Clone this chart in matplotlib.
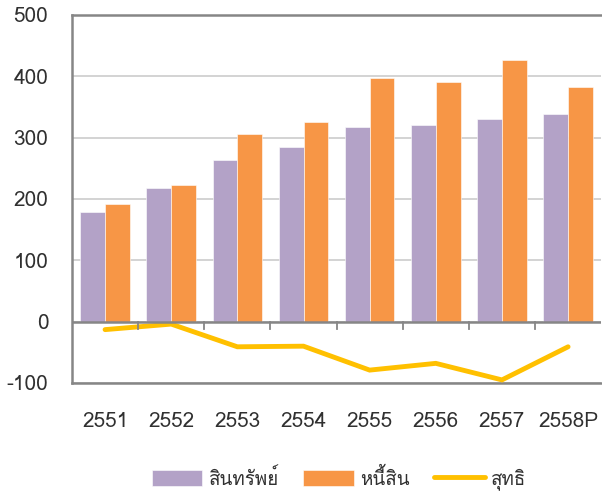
import numpy as np
import matplotlib
matplotlib.use("Agg")
import matplotlib.pyplot as plt
from matplotlib import font_manager
from matplotlib.ft2font import FT2Font

years = ["2551", "2552", "2553", "2554", "2555", "2556", "2557", "2558P"]
assets = [179, 218, 263, 284, 318, 321, 331, 339]
liabilities = [192, 222, 306, 325, 398, 391, 427, 382]
net = [-13, -4, -41, -40, -79, -68, -95, -41]
labels = ["สินทรัพย์", "หนี้สิน", "สุทธิ"]

# find a font that can draw Thai
thai_font = None
for f in font_manager.fontManager.ttflist:
    try:
        if 0x0E2A in FT2Font(f.fname).get_charmap():
            thai_font = f.name
            break
    except Exception:
        pass
fams = ["DejaVu Sans"]
if thai_font:
    fams = [thai_font, "DejaVu Sans"]
plt.rcParams["font.family"] = fams
plt.rcParams["axes.unicode_minus"] = False

fig = plt.figure(figsize=(6.02, 4.91), dpi=100)
ax = fig.add_axes([0.1196, 0.22, 0.879, 0.7495])

x = np.arange(len(years))
w = 0.375
b1 = ax.bar(x - w / 2, assets, w, color="#B3A2C7", edgecolor="white", linewidth=0.4, zorder=3)
b2 = ax.bar(x + w / 2, liabilities, w, color="#F79646", edgecolor="white", linewidth=0.4, zorder=3)
ln, = ax.plot(x, net, color="#FFC000", lw=3.5, solid_capstyle="round", solid_joinstyle="miter", zorder=4)

ax.set_xlim(-0.5, len(years) - 0.5)
ax.set_ylim(-100, 500)
ax.set_yticks(range(-100, 501, 100))
ax.yaxis.grid(True, color="#D0D0D0", lw=1.3, zorder=0)
ax.axhline(0, color="#868686", lw=1.8, zorder=5)
for k in range(1, len(years)):
    ax.plot([k - 0.5, k - 0.5], [0, -12], color="#868686", lw=1.3, zorder=5, clip_on=False)

for s in ["left", "top", "bottom"]:
    ax.spines[s].set_color("#868686")
    ax.spines[s].set_linewidth(1.8)
ax.spines["right"].set_visible(False)

ax.set_xticks(x)
ax.set_xticklabels(years)
ax.tick_params(axis="both", length=0, labelsize=15, colors="#303030")
ax.tick_params(axis="y", pad=17)
ax.tick_params(axis="x", pad=21)

fig.legend([b1, b2, ln], labels, loc="lower center", bbox_to_anchor=(0.563, -0.033),
           ncol=3, frameon=False, fontsize=13.5,
           handlelength=2.7, handleheight=0.9,
           handletextpad=0.33, columnspacing=1.3, labelcolor="#303030")

fig.savefig("out.png", dpi=100)
